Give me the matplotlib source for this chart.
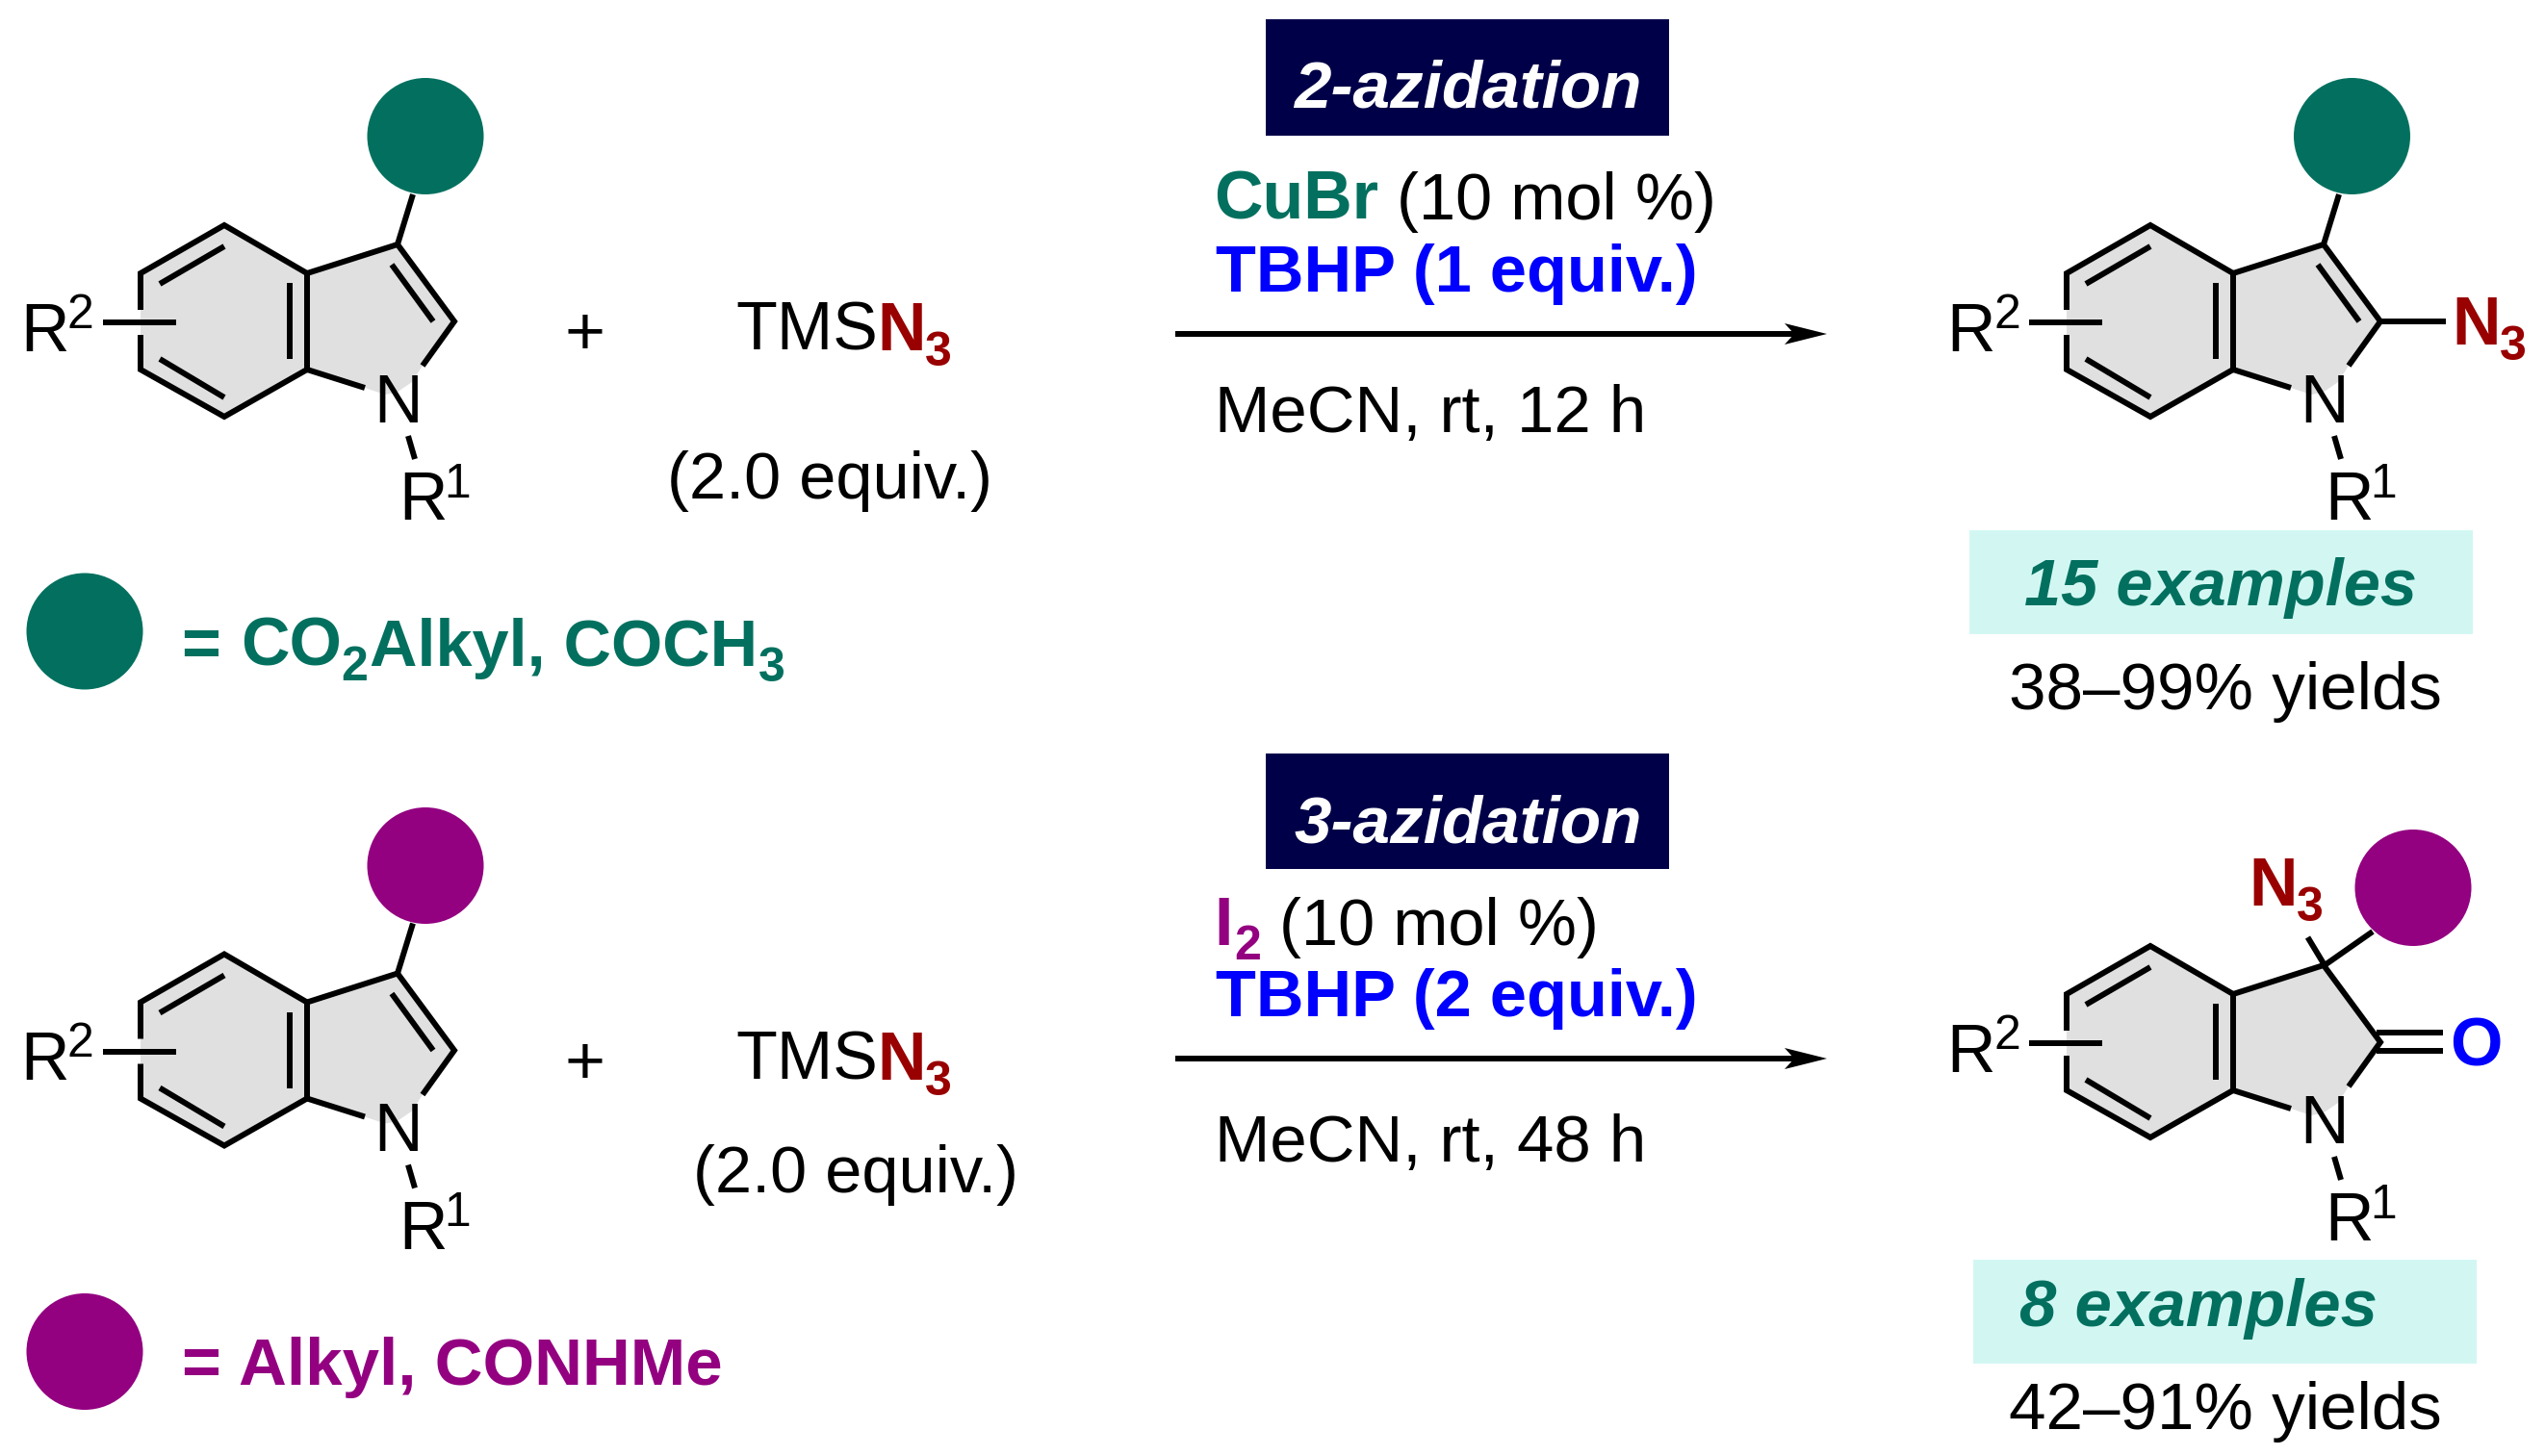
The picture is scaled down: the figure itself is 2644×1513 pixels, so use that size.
import matplotlib
matplotlib.use("Agg")
import matplotlib.pyplot as plt
from matplotlib.patches import Circle, Polygon, Rectangle

TEAL = "#03705F"
PURPLE = "#930080"
NAVY = "#000048"
CYAN = "#D2F7F3"
RED = "#990000"
BLUE = "#0000FF"
GREY = "#E0E0E0"

# Indole skeleton in image pixels (top left structure)
shade = [(146, 284), (233, 234), (319, 284), (413, 254), (472, 334), (439, 380), (428, 397),
         (412, 408), (400, 410), (379, 403), (319, 384), (233, 433), (146, 384)]
benzene = [(146, 322), (146, 284), (233, 234), (319, 284), (319, 384), (233, 433), (146, 384), (146, 348)]
five_ring = [(319, 284), (413, 254), (472, 334), (439, 380)]
c7a_n = [(319, 384), (379, 403)]
n_r1 = [(424, 453), (431, 477)]
r2_bond = [(107, 335), (183, 335)]
inner_bonds = [[(166, 295), (233, 256)], [(166, 373), (233, 413)], [(301, 294), (301, 373)]]
c2_c3_inner = [(407, 275), (450, 334)]
c3_sub = [(413, 254), (429, 202)]

reagents_top = ["CuBr", "(10 mol %)", "TBHP (1 equiv.)", "MeCN, rt, 12 h"]
reagents_bottom = ["I", "(10 mol %)", "TBHP (2 equiv.)", "MeCN, rt, 48 h"]
counts = ["15 examples", "8 examples"]
yields = ["38\u201399% yields", "42\u201391% yields"]

plt.rcParams["font.family"] = ["Liberation Sans", "DejaVu Sans"]
fig = plt.figure(figsize=(26.44, 15.13), dpi=100)
ax = fig.add_axes([0, 0, 1, 1])
ax.set_xlim(0, 2644)
ax.set_ylim(1513, 0)
ax.axis("off")


def put(x, y, s, px=70, color="black", weight="normal", style="normal"):
    # x is the left edge, y the baseline, px the font size in pixels
    ax.text(x, y, s, fontsize=px * 0.72, color=color, fontweight=weight, fontstyle=style,
            ha="left", va="baseline")


def bond(points, dx, dy, lw=4.3):
    ax.plot([p[0] + dx for p in points], [p[1] + dy for p in points], color="black", lw=lw,
            solid_capstyle="butt", solid_joinstyle="miter", zorder=3)


def indole(dx, dy, double=True):
    ax.add_patch(Polygon([(p[0] + dx, p[1] + dy) for p in shade], fc=GREY, ec="none", zorder=1))
    bond(benzene, dx, dy)
    bond(five_ring, dx, dy)
    bond(c7a_n, dx, dy)
    bond(n_r1, dx, dy)
    bond(r2_bond, dx, dy)
    for b in inner_bonds:
        bond(b, dx, dy)
    if double:
        bond(c2_c3_inner, dx, dy)
    put(21 + dx, 365 + dy, "R")
    put(70 + dx, 341 + dy, "2", 50)
    put(388 + dx, 439 + dy, "N")
    put(414 + dx, 540 + dy, "R")
    put(461 + dx, 517 + dy, "1", 50)


def dot(x, y, color):
    ax.add_patch(Circle((x, y), 60.5, fc=color, ec="none", zorder=2))


def arrow(y):
    ax.plot([1221, 1870], [y, y], color="black", lw=4.3, solid_capstyle="butt")
    ax.add_patch(Polygon([(1898, y), (1854, y - 11), (1864, y), (1854, y + 11)], fc="black", ec="none"))


# Left column
indole(0, 0)
dot(442, 141.5, TEAL)
bond(c3_sub, 0, 0)
indole(0, 757.5)
dot(442, 899.5, PURPLE)
bond(c3_sub, 0, 757.5)

# Legends
dot(88, 656, TEAL)
put(188, 692, "=", 70, TEAL, "bold")
put(250, 692, "CO", 70, TEAL, "bold")
put(354, 707, "2", 50, TEAL, "bold")
put(384, 692, "Alkyl, COCH", 68.5, TEAL, "bold")
put(788, 708, "3", 50, TEAL, "bold")
dot(88, 1404.5, PURPLE)
put(188, 1439, "=", 70, PURPLE, "bold")
put(248, 1439, "Alkyl, CONHMe", 69, PURPLE, "bold")

# TMSN3 columns
for base, eq_x, eq_y in [(364, 693, 518), (1122, 720, 1239)]:
    put(586, base + 4, "+", 72)
    put(764, base, "TMS")
    put(911, base, "N", 70, RED, "bold")
    put(961, base + 16, "3", 50, RED, "bold")
    put(eq_x, eq_y, "(2.0 equiv.)", 68.6)

# Middle column, top
ax.add_patch(Rectangle((1315, 20), 419, 121, fc=NAVY, ec="none"))
put(1344, 112, "2-azidation", 69.3, "white", "bold", "italic")
put(1261, 228, reagents_top[0], 70, TEAL, "bold")
put(1451, 228, reagents_top[1], 68.6)
put(1263, 303, reagents_top[2], 68.6, BLUE, "bold")
put(1262, 449, reagents_top[3], 69)
arrow(347)

# Middle column, bottom
ax.add_patch(Rectangle((1315, 783), 419, 120, fc=NAVY, ec="none"))
put(1344, 875, "3-azidation", 69.3, "white", "bold", "italic")
put(1261, 982, reagents_bottom[0], 70, PURPLE, "bold")
put(1282, 997, "2", 50, PURPLE, "bold")
put(1329, 982, reagents_bottom[1], 68.6)
put(1263, 1056, reagents_bottom[2], 68.6, BLUE, "bold")
put(1262, 1207, reagents_bottom[3], 69)
arrow(1100)

# Right column, top product
indole(2001, 0)
dot(2443.5, 141.5, TEAL)
bond(c3_sub, 2001, 0)
bond([(2473, 334), (2541, 334)], 0, 0)
put(2547, 358, "N", 70, RED, "bold")
put(2597, 374, "3", 50, RED, "bold")
ax.add_patch(Rectangle((2046, 551), 523, 108, fc=CYAN, ec="none"))
put(2103, 629, counts[0], 68.6, TEAL, "bold", "italic")
put(2087, 737, yields[0], 69.2)

# Right column, bottom product
indole(2001, 749, double=False)
dot(2507, 922.5, PURPLE)
bond([(2415, 1003), (2465, 968)], 0, 0)
bond([(2415, 1003), (2397.5, 974)], 0, 0)
put(2336, 941, "N", 70, RED, "bold")
put(2386, 957, "3", 50, RED, "bold")
bond([(2469, 1073), (2538, 1073)], 0, 0)
bond([(2469, 1092), (2538, 1092)], 0, 0)
put(2545, 1108, "O", 70, BLUE, "bold")
ax.add_patch(Rectangle((2050, 1309), 523, 108, fc=CYAN, ec="none"))
put(2098, 1378, counts[1], 69, TEAL, "bold", "italic")
put(2087, 1485, yields[1], 69.2)

fig.savefig("out.png", dpi=100)
